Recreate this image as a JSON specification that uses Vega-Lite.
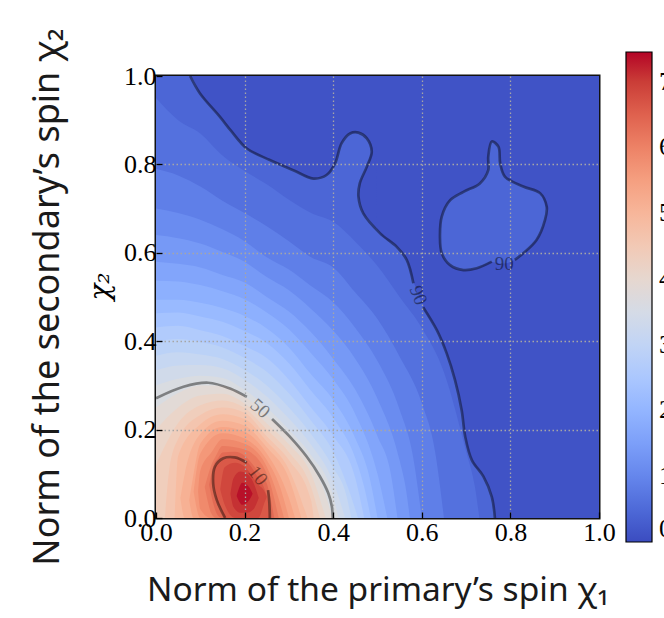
{
  "$schema": "https://vega.github.io/schema/vega-lite/v6.json",
  "width": 443,
  "height": 442,
  "autosize": {"type": "none"},
  "padding": {"left": 156, "top": 76, "right": 65, "bottom": 100},
  "background": "white",
  "title": {"text": "Norm of the secondary’s spin χ₂", "orient": "left", "anchor": "middle", "font": "Noto Sans", "fontSize": 36, "fontWeight": "normal", "color": "#1a1a1a", "offset": 19},
  "config": {
    "view": {"stroke": "#111", "strokeWidth": 3}
  },
  "datasets": {
    "fill": [
      {"g":"a00","v":0.12,"x":0,"lo":0,"hi":1},{"g":"a00","v":0.12,"x":1,"lo":0,"hi":1},
      {"g":"a01","v":0.44,"x":0,"lo":0,"hi":1},{"g":"a01","v":0.44,"x":0.077,"lo":0,"hi":1},{"g":"a01","v":0.44,"x":0.099,"lo":0,"hi":0.961},{"g":"a01","v":0.44,"x":0.144,"lo":0,"hi":0.908},{"g":"a01","v":0.44,"x":0.171,"lo":0,"hi":0.874},{"g":"a01","v":0.44,"x":0.205,"lo":0,"hi":0.836},{"g":"a01","v":0.44,"x":0.257,"lo":0,"hi":0.81},{"g":"a01","v":0.44,"x":0.31,"lo":0,"hi":0.787},{"g":"a01","v":0.44,"x":0.355,"lo":0,"hi":0.768},{"g":"a01","v":0.44,"x":0.385,"lo":0,"hi":0.776},{"g":"a01","v":0.44,"x":0.404,"lo":0,"hi":0.802},{"g":"a01","v":0.44,"x":0.419,"lo":0,"hi":0.848},{"g":"a01","v":0.44,"x":0.438,"lo":0,"hi":0.87},{"g":"a01","v":0.44,"x":0.457,"lo":0,"hi":0.872},{"g":"a01","v":0.44,"x":0.476,"lo":0,"hi":0.859},{"g":"a01","v":0.44,"x":0.487,"lo":0,"hi":0.829},{"g":"a01","v":0.44,"x":0.495,"lo":0,"hi":0.665},{"g":"a01","v":0.44,"x":0.506,"lo":0,"hi":0.644},{"g":"a01","v":0.44,"x":0.543,"lo":0,"hi":0.614},{"g":"a01","v":0.44,"x":0.566,"lo":0,"hi":0.584},{"g":"a01","v":0.44,"x":0.577,"lo":0,"hi":0.546},{"g":"a01","v":0.44,"x":0.59,"lo":0,"hi":0.512},{"g":"a01","v":0.44,"x":0.603,"lo":0,"hi":0.477},{"g":"a01","v":0.44,"x":0.634,"lo":0,"hi":0.425},{"g":"a01","v":0.44,"x":0.656,"lo":0,"hi":0.373},{"g":"a01","v":0.44,"x":0.675,"lo":0,"hi":0.312},{"g":"a01","v":0.44,"x":0.69,"lo":0,"hi":0.244},{"g":"a01","v":0.44,"x":0.698,"lo":0,"hi":0.184},{"g":"a01","v":0.44,"x":0.713,"lo":0,"hi":0.131},{"g":"a01","v":0.44,"x":0.739,"lo":0,"hi":0.094},{"g":"a01","v":0.44,"x":0.758,"lo":0,"hi":0.048},{"g":"a01","v":0.44,"x":0.765,"lo":0,"hi":0},
      {"g":"a02","v":0.44,"x":0.641,"lo":0.637,"hi":0.637},{"g":"a02","v":0.44,"x":0.645,"lo":0.599,"hi":0.682},{"g":"a02","v":0.44,"x":0.664,"lo":0.572,"hi":0.719},{"g":"a02","v":0.44,"x":0.694,"lo":0.561,"hi":0.738},{"g":"a02","v":0.44,"x":0.724,"lo":0.565,"hi":0.753},{"g":"a02","v":0.44,"x":0.74,"lo":0.573,"hi":0.77},{"g":"a02","v":0.44,"x":0.749,"lo":0.577,"hi":0.79},{"g":"a02","v":0.44,"x":0.752,"lo":0.579,"hi":0.835},{"g":"a02","v":0.44,"x":0.758,"lo":0.579,"hi":0.852},{"g":"a02","v":0.44,"x":0.766,"lo":0.578,"hi":0.848},{"g":"a02","v":0.44,"x":0.773,"lo":0.577,"hi":0.84},{"g":"a02","v":0.44,"x":0.777,"lo":0.576,"hi":0.8},{"g":"a02","v":0.44,"x":0.788,"lo":0.576,"hi":0.772},{"g":"a02","v":0.44,"x":0.81,"lo":0.584,"hi":0.758},{"g":"a02","v":0.44,"x":0.829,"lo":0.599,"hi":0.75},{"g":"a02","v":0.44,"x":0.85,"lo":0.62,"hi":0.742},{"g":"a02","v":0.44,"x":0.867,"lo":0.645,"hi":0.735},{"g":"a02","v":0.44,"x":0.877,"lo":0.671,"hi":0.715},{"g":"a02","v":0.44,"x":0.883,"lo":0.695,"hi":0.695},
      {"g":"a03","v":0.12,"x":0.457,"lo":0.727,"hi":0.727},{"g":"a03","v":0.12,"x":0.46,"lo":0.716,"hi":0.757},{"g":"a03","v":0.12,"x":0.468,"lo":0.689,"hi":0.776},{"g":"a03","v":0.12,"x":0.476,"lo":0.68,"hi":0.795},{"g":"a03","v":0.12,"x":0.487,"lo":0.668,"hi":0.829},{"g":"a03","v":0.12,"x":0.497,"lo":0.655,"hi":0.84},
      {"g":"a04","v":0.62,"x":0,"lo":0,"hi":0.95},{"g":"a04","v":0.62,"x":0.05,"lo":0,"hi":0.9},{"g":"a04","v":0.62,"x":0.1,"lo":0,"hi":0.87},{"g":"a04","v":0.62,"x":0.15,"lo":0,"hi":0.82},{"g":"a04","v":0.62,"x":0.2,"lo":0,"hi":0.785},{"g":"a04","v":0.62,"x":0.25,"lo":0,"hi":0.755},{"g":"a04","v":0.62,"x":0.3,"lo":0,"hi":0.72},{"g":"a04","v":0.62,"x":0.35,"lo":0,"hi":0.69},{"g":"a04","v":0.62,"x":0.4,"lo":0,"hi":0.67},{"g":"a04","v":0.62,"x":0.45,"lo":0,"hi":0.625},{"g":"a04","v":0.62,"x":0.5,"lo":0,"hi":0.57},{"g":"a04","v":0.62,"x":0.55,"lo":0,"hi":0.5},{"g":"a04","v":0.62,"x":0.6,"lo":0,"hi":0.43},{"g":"a04","v":0.62,"x":0.65,"lo":0,"hi":0.33},{"g":"a04","v":0.62,"x":0.7,"lo":0,"hi":0.15},{"g":"a04","v":0.62,"x":0.72,"lo":0,"hi":0.07},{"g":"a04","v":0.62,"x":0.73,"lo":0,"hi":0},
      {"g":"a05","v":0.87,"x":0,"lo":0,"hi":0.79},{"g":"a05","v":0.87,"x":0.05,"lo":0,"hi":0.775},{"g":"a05","v":0.87,"x":0.1,"lo":0,"hi":0.75},{"g":"a05","v":0.87,"x":0.15,"lo":0,"hi":0.718},{"g":"a05","v":0.87,"x":0.2,"lo":0,"hi":0.69},{"g":"a05","v":0.87,"x":0.25,"lo":0,"hi":0.66},{"g":"a05","v":0.87,"x":0.3,"lo":0,"hi":0.626},{"g":"a05","v":0.87,"x":0.35,"lo":0,"hi":0.59},{"g":"a05","v":0.87,"x":0.4,"lo":0,"hi":0.567},{"g":"a05","v":0.87,"x":0.45,"lo":0,"hi":0.51},{"g":"a05","v":0.87,"x":0.5,"lo":0,"hi":0.45},{"g":"a05","v":0.87,"x":0.55,"lo":0,"hi":0.365},{"g":"a05","v":0.87,"x":0.6,"lo":0,"hi":0.26},{"g":"a05","v":0.87,"x":0.63,"lo":0,"hi":0.15},{"g":"a05","v":0.87,"x":0.65,"lo":0,"hi":0},
      {"g":"a06","v":1.12,"x":0,"lo":0,"hi":0.7},{"g":"a06","v":1.12,"x":0.05,"lo":0,"hi":0.69},{"g":"a06","v":1.12,"x":0.1,"lo":0,"hi":0.675},{"g":"a06","v":1.12,"x":0.15,"lo":0,"hi":0.653},{"g":"a06","v":1.12,"x":0.2,"lo":0,"hi":0.626},{"g":"a06","v":1.12,"x":0.25,"lo":0,"hi":0.59},{"g":"a06","v":1.12,"x":0.3,"lo":0,"hi":0.562},{"g":"a06","v":1.12,"x":0.35,"lo":0,"hi":0.525},{"g":"a06","v":1.12,"x":0.4,"lo":0,"hi":0.488},{"g":"a06","v":1.12,"x":0.45,"lo":0,"hi":0.43},{"g":"a06","v":1.12,"x":0.5,"lo":0,"hi":0.355},{"g":"a06","v":1.12,"x":0.55,"lo":0,"hi":0.245},{"g":"a06","v":1.12,"x":0.58,"lo":0,"hi":0.14},{"g":"a06","v":1.12,"x":0.6,"lo":0,"hi":0},
      {"g":"a07","v":1.37,"x":0,"lo":0,"hi":0.64},{"g":"a07","v":1.37,"x":0.05,"lo":0,"hi":0.633},{"g":"a07","v":1.37,"x":0.1,"lo":0,"hi":0.621},{"g":"a07","v":1.37,"x":0.15,"lo":0,"hi":0.602},{"g":"a07","v":1.37,"x":0.2,"lo":0,"hi":0.58},{"g":"a07","v":1.37,"x":0.25,"lo":0,"hi":0.545},{"g":"a07","v":1.37,"x":0.3,"lo":0,"hi":0.515},{"g":"a07","v":1.37,"x":0.35,"lo":0,"hi":0.473},{"g":"a07","v":1.37,"x":0.4,"lo":0,"hi":0.424},{"g":"a07","v":1.37,"x":0.45,"lo":0,"hi":0.36},{"g":"a07","v":1.37,"x":0.5,"lo":0,"hi":0.27},{"g":"a07","v":1.37,"x":0.55,"lo":0,"hi":0.13},{"g":"a07","v":1.37,"x":0.565,"lo":0,"hi":0.06},{"g":"a07","v":1.37,"x":0.573,"lo":0,"hi":0},
      {"g":"a08","v":1.62,"x":0,"lo":0,"hi":0.58},{"g":"a08","v":1.62,"x":0.05,"lo":0,"hi":0.575},{"g":"a08","v":1.62,"x":0.1,"lo":0,"hi":0.567},{"g":"a08","v":1.62,"x":0.15,"lo":0,"hi":0.55},{"g":"a08","v":1.62,"x":0.2,"lo":0,"hi":0.533},{"g":"a08","v":1.62,"x":0.25,"lo":0,"hi":0.5},{"g":"a08","v":1.62,"x":0.3,"lo":0,"hi":0.467},{"g":"a08","v":1.62,"x":0.35,"lo":0,"hi":0.42},{"g":"a08","v":1.62,"x":0.4,"lo":0,"hi":0.36},{"g":"a08","v":1.62,"x":0.45,"lo":0,"hi":0.29},{"g":"a08","v":1.62,"x":0.5,"lo":0,"hi":0.185},{"g":"a08","v":1.62,"x":0.53,"lo":0,"hi":0.1},{"g":"a08","v":1.62,"x":0.545,"lo":0,"hi":0},
      {"g":"a09","v":1.87,"x":0,"lo":0,"hi":0.537},{"g":"a09","v":1.87,"x":0.05,"lo":0,"hi":0.535},{"g":"a09","v":1.87,"x":0.1,"lo":0,"hi":0.527},{"g":"a09","v":1.87,"x":0.15,"lo":0,"hi":0.513},{"g":"a09","v":1.87,"x":0.2,"lo":0,"hi":0.495},{"g":"a09","v":1.87,"x":0.25,"lo":0,"hi":0.465},{"g":"a09","v":1.87,"x":0.3,"lo":0,"hi":0.427},{"g":"a09","v":1.87,"x":0.35,"lo":0,"hi":0.373},{"g":"a09","v":1.87,"x":0.4,"lo":0,"hi":0.314},{"g":"a09","v":1.87,"x":0.45,"lo":0,"hi":0.235},{"g":"a09","v":1.87,"x":0.5,"lo":0,"hi":0.1},{"g":"a09","v":1.87,"x":0.522,"lo":0,"hi":0},
      {"g":"a10","v":2.12,"x":0,"lo":0,"hi":0.494},{"g":"a10","v":2.12,"x":0.05,"lo":0,"hi":0.494},{"g":"a10","v":2.12,"x":0.1,"lo":0,"hi":0.487},{"g":"a10","v":2.12,"x":0.15,"lo":0,"hi":0.475},{"g":"a10","v":2.12,"x":0.2,"lo":0,"hi":0.457},{"g":"a10","v":2.12,"x":0.25,"lo":0,"hi":0.429},{"g":"a10","v":2.12,"x":0.3,"lo":0,"hi":0.386},{"g":"a10","v":2.12,"x":0.35,"lo":0,"hi":0.325},{"g":"a10","v":2.12,"x":0.4,"lo":0,"hi":0.267},{"g":"a10","v":2.12,"x":0.45,"lo":0,"hi":0.18},{"g":"a10","v":2.12,"x":0.48,"lo":0,"hi":0.1},{"g":"a10","v":2.12,"x":0.5,"lo":0,"hi":0},
      {"g":"a11","v":2.37,"x":0,"lo":0,"hi":0.463},{"g":"a11","v":2.37,"x":0.05,"lo":0,"hi":0.465},{"g":"a11","v":2.37,"x":0.1,"lo":0,"hi":0.456},{"g":"a11","v":2.37,"x":0.15,"lo":0,"hi":0.444},{"g":"a11","v":2.37,"x":0.2,"lo":0,"hi":0.423},{"g":"a11","v":2.37,"x":0.25,"lo":0,"hi":0.396},{"g":"a11","v":2.37,"x":0.3,"lo":0,"hi":0.35},{"g":"a11","v":2.37,"x":0.35,"lo":0,"hi":0.288},{"g":"a11","v":2.37,"x":0.4,"lo":0,"hi":0.227},{"g":"a11","v":2.37,"x":0.45,"lo":0,"hi":0.135},{"g":"a11","v":2.37,"x":0.47,"lo":0,"hi":0.07},{"g":"a11","v":2.37,"x":0.485,"lo":0,"hi":0},
      {"g":"a12","v":2.62,"x":0,"lo":0,"hi":0.431},{"g":"a12","v":2.62,"x":0.05,"lo":0,"hi":0.435},{"g":"a12","v":2.62,"x":0.1,"lo":0,"hi":0.425},{"g":"a12","v":2.62,"x":0.15,"lo":0,"hi":0.412},{"g":"a12","v":2.62,"x":0.2,"lo":0,"hi":0.389},{"g":"a12","v":2.62,"x":0.25,"lo":0,"hi":0.362},{"g":"a12","v":2.62,"x":0.3,"lo":0,"hi":0.313},{"g":"a12","v":2.62,"x":0.35,"lo":0,"hi":0.25},{"g":"a12","v":2.62,"x":0.4,"lo":0,"hi":0.186},{"g":"a12","v":2.62,"x":0.45,"lo":0,"hi":0.09},{"g":"a12","v":2.62,"x":0.47,"lo":0,"hi":0},
      {"g":"a13","v":2.87,"x":0,"lo":0,"hi":0.399},{"g":"a13","v":2.87,"x":0.05,"lo":0,"hi":0.405},{"g":"a13","v":2.87,"x":0.1,"lo":0,"hi":0.398},{"g":"a13","v":2.87,"x":0.15,"lo":0,"hi":0.386},{"g":"a13","v":2.87,"x":0.2,"lo":0,"hi":0.362},{"g":"a13","v":2.87,"x":0.25,"lo":0,"hi":0.331},{"g":"a13","v":2.87,"x":0.3,"lo":0,"hi":0.282},{"g":"a13","v":2.87,"x":0.35,"lo":0,"hi":0.22},{"g":"a13","v":2.87,"x":0.4,"lo":0,"hi":0.15},{"g":"a13","v":2.87,"x":0.44,"lo":0,"hi":0.05},{"g":"a13","v":2.87,"x":0.456,"lo":0,"hi":0},
      {"g":"a14","v":3.12,"x":0,"lo":0,"hi":0.367},{"g":"a14","v":3.12,"x":0.05,"lo":0,"hi":0.375},{"g":"a14","v":3.12,"x":0.1,"lo":0,"hi":0.37},{"g":"a14","v":3.12,"x":0.15,"lo":0,"hi":0.36},{"g":"a14","v":3.12,"x":0.2,"lo":0,"hi":0.335},{"g":"a14","v":3.12,"x":0.25,"lo":0,"hi":0.3},{"g":"a14","v":3.12,"x":0.3,"lo":0,"hi":0.25},{"g":"a14","v":3.12,"x":0.35,"lo":0,"hi":0.19},{"g":"a14","v":3.12,"x":0.4,"lo":0,"hi":0.114},{"g":"a14","v":3.12,"x":0.43,"lo":0,"hi":0.05},{"g":"a14","v":3.12,"x":0.441,"lo":0,"hi":0},
      {"g":"a15","v":3.37,"x":0,"lo":0,"hi":0.334},{"g":"a15","v":3.37,"x":0.05,"lo":0,"hi":0.345},{"g":"a15","v":3.37,"x":0.1,"lo":0,"hi":0.346},{"g":"a15","v":3.37,"x":0.15,"lo":0,"hi":0.339},{"g":"a15","v":3.37,"x":0.2,"lo":0,"hi":0.313},{"g":"a15","v":3.37,"x":0.25,"lo":0,"hi":0.275},{"g":"a15","v":3.37,"x":0.3,"lo":0,"hi":0.225},{"g":"a15","v":3.37,"x":0.35,"lo":0,"hi":0.166},{"g":"a15","v":3.37,"x":0.4,"lo":0,"hi":0.082},{"g":"a15","v":3.37,"x":0.427,"lo":0,"hi":0},
      {"g":"a16","v":3.62,"x":0,"lo":0,"hi":0.3},{"g":"a16","v":3.62,"x":0.05,"lo":0,"hi":0.315},{"g":"a16","v":3.62,"x":0.1,"lo":0,"hi":0.322},{"g":"a16","v":3.62,"x":0.15,"lo":0,"hi":0.317},{"g":"a16","v":3.62,"x":0.2,"lo":0,"hi":0.29},{"g":"a16","v":3.62,"x":0.25,"lo":0,"hi":0.25},{"g":"a16","v":3.62,"x":0.3,"lo":0,"hi":0.2},{"g":"a16","v":3.62,"x":0.35,"lo":0,"hi":0.142},{"g":"a16","v":3.62,"x":0.4,"lo":0,"hi":0.05},{"g":"a16","v":3.62,"x":0.412,"lo":0,"hi":0},
      {"g":"a17","v":3.87,"x":0,"lo":0,"hi":0.25},{"g":"a17","v":3.87,"x":0.05,"lo":0,"hi":0.283},{"g":"a17","v":3.87,"x":0.1,"lo":0,"hi":0.3},{"g":"a17","v":3.87,"x":0.15,"lo":0,"hi":0.299},{"g":"a17","v":3.87,"x":0.2,"lo":0,"hi":0.275},{"g":"a17","v":3.87,"x":0.25,"lo":0,"hi":0.232},{"g":"a17","v":3.87,"x":0.3,"lo":0,"hi":0.184},{"g":"a17","v":3.87,"x":0.35,"lo":0,"hi":0.121},{"g":"a17","v":3.87,"x":0.38,"lo":0,"hi":0.06},{"g":"a17","v":3.87,"x":0.398,"lo":0,"hi":0},
      {"g":"a18","v":4.12,"x":0,"lo":0,"hi":0.2},{"g":"a18","v":4.12,"x":0.05,"lo":0,"hi":0.25},{"g":"a18","v":4.12,"x":0.1,"lo":0,"hi":0.277},{"g":"a18","v":4.12,"x":0.15,"lo":0,"hi":0.281},{"g":"a18","v":4.12,"x":0.2,"lo":0,"hi":0.259},{"g":"a18","v":4.12,"x":0.25,"lo":0,"hi":0.214},{"g":"a18","v":4.12,"x":0.3,"lo":0,"hi":0.167},{"g":"a18","v":4.12,"x":0.35,"lo":0,"hi":0.1},{"g":"a18","v":4.12,"x":0.383,"lo":0,"hi":0},
      {"g":"a19","v":4.37,"x":0,"lo":0,"hi":0.12},{"g":"a19","v":4.37,"x":0.05,"lo":0,"hi":0.215},{"g":"a19","v":4.37,"x":0.1,"lo":0,"hi":0.255},{"g":"a19","v":4.37,"x":0.15,"lo":0,"hi":0.266},{"g":"a19","v":4.37,"x":0.2,"lo":0,"hi":0.249},{"g":"a19","v":4.37,"x":0.25,"lo":0,"hi":0.2},{"g":"a19","v":4.37,"x":0.3,"lo":0,"hi":0.149},{"g":"a19","v":4.37,"x":0.35,"lo":0,"hi":0.07},{"g":"a19","v":4.37,"x":0.37,"lo":0,"hi":0},
      {"g":"a20","v":4.62,"x":0.02,"lo":0,"hi":0},{"g":"a20","v":4.62,"x":0.03,"lo":0,"hi":0.11},{"g":"a20","v":4.62,"x":0.05,"lo":0,"hi":0.179},{"g":"a20","v":4.62,"x":0.1,"lo":0,"hi":0.233},{"g":"a20","v":4.62,"x":0.15,"lo":0,"hi":0.25},{"g":"a20","v":4.62,"x":0.2,"lo":0,"hi":0.238},{"g":"a20","v":4.62,"x":0.25,"lo":0,"hi":0.185},{"g":"a20","v":4.62,"x":0.3,"lo":0,"hi":0.131},{"g":"a20","v":4.62,"x":0.35,"lo":0,"hi":0.04},{"g":"a20","v":4.62,"x":0.356,"lo":0,"hi":0},
      {"g":"a21","v":4.87,"x":0.042,"lo":0,"hi":0},{"g":"a21","v":4.87,"x":0.05,"lo":0,"hi":0.14},{"g":"a21","v":4.87,"x":0.1,"lo":0,"hi":0.212},{"g":"a21","v":4.87,"x":0.15,"lo":0,"hi":0.235},{"g":"a21","v":4.87,"x":0.2,"lo":0,"hi":0.224},{"g":"a21","v":4.87,"x":0.25,"lo":0,"hi":0.173},{"g":"a21","v":4.87,"x":0.3,"lo":0,"hi":0.11},{"g":"a21","v":4.87,"x":0.342,"lo":0,"hi":0},
      {"g":"a22","v":5.12,"x":0.055,"lo":0.045,"hi":0.045},{"g":"a22","v":5.12,"x":0.065,"lo":0,"hi":0.1},{"g":"a22","v":5.12,"x":0.1,"lo":0,"hi":0.19},{"g":"a22","v":5.12,"x":0.15,"lo":0,"hi":0.22},{"g":"a22","v":5.12,"x":0.2,"lo":0,"hi":0.209},{"g":"a22","v":5.12,"x":0.25,"lo":0,"hi":0.16},{"g":"a22","v":5.12,"x":0.3,"lo":0,"hi":0.09},{"g":"a22","v":5.12,"x":0.328,"lo":0,"hi":0},
      {"g":"a23","v":5.37,"x":0.075,"lo":0.04,"hi":0.04},{"g":"a23","v":5.37,"x":0.085,"lo":0,"hi":0.1},{"g":"a23","v":5.37,"x":0.1,"lo":0,"hi":0.168},{"g":"a23","v":5.37,"x":0.15,"lo":0,"hi":0.206},{"g":"a23","v":5.37,"x":0.2,"lo":0,"hi":0.195},{"g":"a23","v":5.37,"x":0.25,"lo":0,"hi":0.146},{"g":"a23","v":5.37,"x":0.3,"lo":0,"hi":0.045},{"g":"a23","v":5.37,"x":0.314,"lo":0,"hi":0},
      {"g":"a24","v":5.62,"x":0.085,"lo":0.06,"hi":0.06},{"g":"a24","v":5.62,"x":0.1,"lo":0,"hi":0.146},{"g":"a24","v":5.62,"x":0.15,"lo":0,"hi":0.192},{"g":"a24","v":5.62,"x":0.2,"lo":0,"hi":0.18},{"g":"a24","v":5.62,"x":0.25,"lo":0,"hi":0.131},{"g":"a24","v":5.62,"x":0.28,"lo":0,"hi":0.07},{"g":"a24","v":5.62,"x":0.3,"lo":0,"hi":0},
      {"g":"a25","v":5.87,"x":0.095,"lo":0.06,"hi":0.06},{"g":"a25","v":5.87,"x":0.1,"lo":0.02,"hi":0.107},{"g":"a25","v":5.87,"x":0.125,"lo":0,"hi":0.148},{"g":"a25","v":5.87,"x":0.15,"lo":0,"hi":0.178},{"g":"a25","v":5.87,"x":0.2,"lo":0,"hi":0.168},{"g":"a25","v":5.87,"x":0.25,"lo":0,"hi":0.116},{"g":"a25","v":5.87,"x":0.275,"lo":0,"hi":0.05},{"g":"a25","v":5.87,"x":0.289,"lo":0,"hi":0},
      {"g":"a26","v":6.12,"x":0.11,"lo":0.07,"hi":0.07},{"g":"a26","v":6.12,"x":0.125,"lo":0.01,"hi":0.12},{"g":"a26","v":6.12,"x":0.135,"lo":0,"hi":0.14},{"g":"a26","v":6.12,"x":0.15,"lo":0,"hi":0.163},{"g":"a26","v":6.12,"x":0.2,"lo":0,"hi":0.155},{"g":"a26","v":6.12,"x":0.25,"lo":0,"hi":0.1},{"g":"a26","v":6.12,"x":0.277,"lo":0,"hi":0},
      {"g":"a27","v":6.37,"x":0.12,"lo":0.075,"hi":0.075},{"g":"a27","v":6.37,"x":0.13,"lo":0.03,"hi":0.12},{"g":"a27","v":6.37,"x":0.14,"lo":0.005,"hi":0.135},{"g":"a27","v":6.37,"x":0.15,"lo":0,"hi":0.148},{"g":"a27","v":6.37,"x":0.178,"lo":0,"hi":0.15},{"g":"a27","v":6.37,"x":0.2,"lo":0,"hi":0.141},{"g":"a27","v":6.37,"x":0.227,"lo":0,"hi":0.11},{"g":"a27","v":6.37,"x":0.25,"lo":0,"hi":0.078},{"g":"a27","v":6.37,"x":0.267,"lo":0,"hi":0},
      {"g":"a28","v":6.62,"x":0.129,"lo":0.078,"hi":0.078},{"g":"a28","v":6.62,"x":0.133,"lo":0.06,"hi":0.116},{"g":"a28","v":6.62,"x":0.137,"lo":0.041,"hi":0.12},{"g":"a28","v":6.62,"x":0.145,"lo":0.024,"hi":0.128},{"g":"a28","v":6.62,"x":0.156,"lo":0,"hi":0.134},{"g":"a28","v":6.62,"x":0.178,"lo":0,"hi":0.137},{"g":"a28","v":6.62,"x":0.205,"lo":0,"hi":0.127},{"g":"a28","v":6.62,"x":0.227,"lo":0,"hi":0.097},{"g":"a28","v":6.62,"x":0.246,"lo":0,"hi":0.063},{"g":"a28","v":6.62,"x":0.254,"lo":0,"hi":0.033},{"g":"a28","v":6.62,"x":0.257,"lo":0,"hi":0},
      {"g":"a29","v":6.87,"x":0.145,"lo":0.065,"hi":0.065},{"g":"a29","v":6.87,"x":0.155,"lo":0.03,"hi":0.115},{"g":"a29","v":6.87,"x":0.179,"lo":0,"hi":0.125},{"g":"a29","v":6.87,"x":0.2,"lo":0,"hi":0.116},{"g":"a29","v":6.87,"x":0.231,"lo":0,"hi":0.075},{"g":"a29","v":6.87,"x":0.245,"lo":0.035,"hi":0.06},{"g":"a29","v":6.87,"x":0.25,"lo":0.048,"hi":0.048},
      {"g":"a30","v":7.12,"x":0.168,"lo":0.055,"hi":0.055},{"g":"a30","v":7.12,"x":0.175,"lo":0.025,"hi":0.09},{"g":"a30","v":7.12,"x":0.19,"lo":0.012,"hi":0.105},{"g":"a30","v":7.12,"x":0.205,"lo":0.012,"hi":0.1},{"g":"a30","v":7.12,"x":0.22,"lo":0.02,"hi":0.08},{"g":"a30","v":7.12,"x":0.232,"lo":0.045,"hi":0.045},
      {"g":"a31","v":7.37,"x":0.182,"lo":0.05,"hi":0.05},{"g":"a31","v":7.37,"x":0.195,"lo":0.03,"hi":0.08},{"g":"a31","v":7.37,"x":0.21,"lo":0.04,"hi":0.07},{"g":"a31","v":7.37,"x":0.218,"lo":0.055,"hi":0.055}
    ],
    "lines": [
      {"seg":"10a","i":0,"x":0.156,"y":0},{"seg":"10a","i":1,"x":0.137,"y":0.041},{"seg":"10a","i":2,"x":0.129,"y":0.078},{"seg":"10a","i":3,"x":0.133,"y":0.116},{"seg":"10a","i":4,"x":0.152,"y":0.135},{"seg":"10a","i":5,"x":0.178,"y":0.137},{"seg":"10a","i":6,"x":0.205,"y":0.125},
      {"seg":"10b","i":0,"x":0.253,"y":0.063},{"seg":"10b","i":1,"x":0.256,"y":0.033},{"seg":"10b","i":2,"x":0.257,"y":0},
      {"seg":"50a","i":0,"x":0,"y":0.271},{"seg":"50a","i":1,"x":0.062,"y":0.297},{"seg":"50a","i":2,"x":0.118,"y":0.306},{"seg":"50a","i":3,"x":0.167,"y":0.293},{"seg":"50a","i":4,"x":0.205,"y":0.274},
      {"seg":"50b","i":0,"x":0.262,"y":0.224},{"seg":"50b","i":1,"x":0.302,"y":0.184},{"seg":"50b","i":2,"x":0.34,"y":0.139},{"seg":"50b","i":3,"x":0.37,"y":0.094},{"seg":"50b","i":4,"x":0.389,"y":0.056},{"seg":"50b","i":5,"x":0.397,"y":0.026},{"seg":"50b","i":6,"x":0.399,"y":0},
      {"seg":"90a","i":0,"x":0.077,"y":1},{"seg":"90a","i":1,"x":0.099,"y":0.961},{"seg":"90a","i":2,"x":0.144,"y":0.908},{"seg":"90a","i":3,"x":0.171,"y":0.874},{"seg":"90a","i":4,"x":0.205,"y":0.836},{"seg":"90a","i":5,"x":0.257,"y":0.81},{"seg":"90a","i":6,"x":0.31,"y":0.787},{"seg":"90a","i":7,"x":0.355,"y":0.768},{"seg":"90a","i":8,"x":0.385,"y":0.776},{"seg":"90a","i":9,"x":0.404,"y":0.802},{"seg":"90a","i":10,"x":0.419,"y":0.848},{"seg":"90a","i":11,"x":0.438,"y":0.87},{"seg":"90a","i":12,"x":0.457,"y":0.872},{"seg":"90a","i":13,"x":0.476,"y":0.859},{"seg":"90a","i":14,"x":0.487,"y":0.829},{"seg":"90a","i":15,"x":0.476,"y":0.795},{"seg":"90a","i":16,"x":0.46,"y":0.757},{"seg":"90a","i":17,"x":0.457,"y":0.727},{"seg":"90a","i":18,"x":0.468,"y":0.689},{"seg":"90a","i":19,"x":0.506,"y":0.644},{"seg":"90a","i":20,"x":0.543,"y":0.614},{"seg":"90a","i":21,"x":0.566,"y":0.584},{"seg":"90a","i":22,"x":0.581,"y":0.531},
      {"seg":"90b","i":0,"x":0.603,"y":0.477},{"seg":"90b","i":1,"x":0.634,"y":0.425},{"seg":"90b","i":2,"x":0.656,"y":0.373},{"seg":"90b","i":3,"x":0.675,"y":0.312},{"seg":"90b","i":4,"x":0.69,"y":0.244},{"seg":"90b","i":5,"x":0.698,"y":0.184},{"seg":"90b","i":6,"x":0.713,"y":0.131},{"seg":"90b","i":7,"x":0.739,"y":0.094},{"seg":"90b","i":8,"x":0.758,"y":0.048},{"seg":"90b","i":9,"x":0.765,"y":0},
      {"seg":"90c","i":0,"x":0.758,"y":0.58},{"seg":"90c","i":1,"x":0.724,"y":0.565},{"seg":"90c","i":2,"x":0.694,"y":0.561},{"seg":"90c","i":3,"x":0.664,"y":0.572},{"seg":"90c","i":4,"x":0.645,"y":0.599},{"seg":"90c","i":5,"x":0.641,"y":0.637},{"seg":"90c","i":6,"x":0.645,"y":0.682},{"seg":"90c","i":7,"x":0.664,"y":0.719},{"seg":"90c","i":8,"x":0.694,"y":0.738},{"seg":"90c","i":9,"x":0.731,"y":0.757},{"seg":"90c","i":10,"x":0.75,"y":0.787},{"seg":"90c","i":11,"x":0.75,"y":0.817},{"seg":"90c","i":12,"x":0.758,"y":0.852},{"seg":"90c","i":13,"x":0.773,"y":0.84},{"seg":"90c","i":14,"x":0.777,"y":0.802},{"seg":"90c","i":15,"x":0.788,"y":0.772},{"seg":"90c","i":16,"x":0.829,"y":0.75},{"seg":"90c","i":17,"x":0.867,"y":0.735},{"seg":"90c","i":18,"x":0.882,"y":0.704},{"seg":"90c","i":19,"x":0.878,"y":0.674},{"seg":"90c","i":20,"x":0.859,"y":0.629},{"seg":"90c","i":21,"x":0.829,"y":0.599},{"seg":"90c","i":22,"x":0.81,"y":0.584}
    ]
  },
  "layer": [
    {
      "data": {"name": "fill"},
      "mark": {"type": "area", "interpolate": "monotone", "clip": true, "opacity": 1},
      "encoding": {
        "x": {"field": "x", "type": "quantitative", "scale": {"domain": [0, 1], "nice": false},
          "axis": {"values": [0, 0.2, 0.4, 0.6, 0.8, 1], "format": ".1f", "labelFont": "Liberation Serif", "labelFontSize": 26, "labelColor": "black", "labelFlush": false, "labelOverlap": false, "labelPadding": 7,
            "tickColor": "black", "tickSize": -6, "tickWidth": 1.3, "domain": false,
            "grid": true, "gridColor": "#a6a6a6", "gridDash": [1.5, 2.5], "gridWidth": 1.3, "gridOpacity": {"condition": {"test": "datum.value === 0 || datum.value === 1", "value": 0}, "value": 1}, "zindex": 1,
            "title": "Norm of the primary’s spin χ₁", "titleFont": "Noto Sans", "titleFontSize": 33.5, "titleFontWeight": "normal", "titleColor": "#1a1a1a", "titleY": 82, "titleBaseline": "alphabetic"}},
        "y": {"field": "hi", "type": "quantitative", "stack": null, "scale": {"domain": [0, 1], "nice": false},
          "axis": {"values": [0, 0.2, 0.4, 0.6, 0.8, 1], "format": ".1f", "labelFont": "Liberation Serif", "labelFontSize": 26, "labelColor": "black", "labelFlush": false, "labelOverlap": false, "labelPadding": 6,
            "tickColor": "black", "tickSize": -6, "tickWidth": 1.3, "domain": false,
            "grid": true, "gridColor": "#a6a6a6", "gridDash": [1.5, 2.5], "gridWidth": 1.3, "gridOpacity": {"condition": {"test": "datum.value === 0 || datum.value === 1", "value": 0}, "value": 1}, "zindex": 1,
            "title": "χ₂", "titleFont": "DejaVu Serif", "titleFontStyle": "italic", "titleFontSize": 28, "titleFontWeight": "normal", "titleColor": "black", "titleX": -56, "titleY": 210, "titleAlign": "center", "titleBaseline": "middle"}},
        "y2": {"field": "lo"},
        "detail": {"field": "g", "type": "nominal"},
        "color": {
          "field": "v", "type": "quantitative",
          "scale": {
            "domain": [0, 0.2328, 0.4656, 0.6984, 0.9313, 1.1641, 1.3969, 1.6297, 1.8625, 2.0953, 2.3281, 2.5609, 2.7938, 3.0266, 3.2594, 3.4922, 3.725, 3.9578, 4.1906, 4.4234, 4.6563, 4.8891, 5.1219, 5.3547, 5.5875, 5.8203, 6.0531, 6.2859, 6.5188, 6.7516, 6.9844, 7.2172, 7.45],
            "range": ["#3b4cc0", "#445acc", "#4d68d7", "#5775e1", "#6282ea", "#6c8ef1", "#779af7", "#82a5fb", "#8db0fe", "#98b9ff", "#a3c2ff", "#aec9fd", "#b8d0f9", "#c2d5f4", "#ccd9ee", "#d5dbe6", "#dddddd", "#e5d8d1", "#ecd3c5", "#f1ccb9", "#f5c4ad", "#f7bba0", "#f7b194", "#f7a687", "#f49a7b", "#f18d6f", "#ec7f63", "#e57058", "#de604d", "#d55042", "#cb3e38", "#c0282f", "#b40426"],
            "interpolate": "rgb"
          },
          "legend": {"orient": "none", "legendX": 470, "legendY": -24, "direction": "vertical", "gradientLength": 490, "gradientThickness": 26, "title": null, "values": [0, 1, 2, 3, 4, 5, 6, 7], "labelFont": "Liberation Serif", "labelFontSize": 26, "labelColor": "black", "labelOffset": 7, "gradientStrokeColor": "black", "gradientStrokeWidth": 1.2, "labelOverlap": false}
        }
      }
    },
    {
      "data": {"name": "lines"},
      "mark": {"type": "line", "interpolate": "catmull-rom", "color": "black", "strokeOpacity": 0.42, "strokeWidth": 2.7, "clip": true},
      "encoding": {
        "x": {"field": "x", "type": "quantitative"},
        "y": {"field": "y", "type": "quantitative"},
        "detail": {"field": "seg", "type": "nominal"},
        "order": {"field": "i", "type": "quantitative"}
      }
    },
    {
      "data": {"values": [{"x": 0.23, "y": 0.096, "t": "10"}]},
      "mark": {"type": "text", "angle": 52, "font": "Liberation Serif", "fontSize": 19, "color": "black", "opacity": 0.45},
      "encoding": {"x": {"field": "x", "type": "quantitative"}, "y": {"field": "y", "type": "quantitative"}, "text": {"field": "t"}}
    },
    {
      "data": {"values": [{"x": 0.235, "y": 0.248, "t": "50"}]},
      "mark": {"type": "text", "angle": 41, "font": "Liberation Serif", "fontSize": 19, "color": "black", "opacity": 0.45},
      "encoding": {"x": {"field": "x", "type": "quantitative"}, "y": {"field": "y", "type": "quantitative"}, "text": {"field": "t"}}
    },
    {
      "data": {"values": [{"x": 0.592, "y": 0.504, "t": "90"}]},
      "mark": {"type": "text", "angle": 68, "font": "Liberation Serif", "fontSize": 19, "color": "black", "opacity": 0.45},
      "encoding": {"x": {"field": "x", "type": "quantitative"}, "y": {"field": "y", "type": "quantitative"}, "text": {"field": "t"}}
    },
    {
      "data": {"values": [{"x": 0.786, "y": 0.575, "t": "90"}]},
      "mark": {"type": "text", "angle": 0, "font": "Liberation Serif", "fontSize": 19, "color": "black", "opacity": 0.45},
      "encoding": {"x": {"field": "x", "type": "quantitative"}, "y": {"field": "y", "type": "quantitative"}, "text": {"field": "t"}}
    }
  ]
}
